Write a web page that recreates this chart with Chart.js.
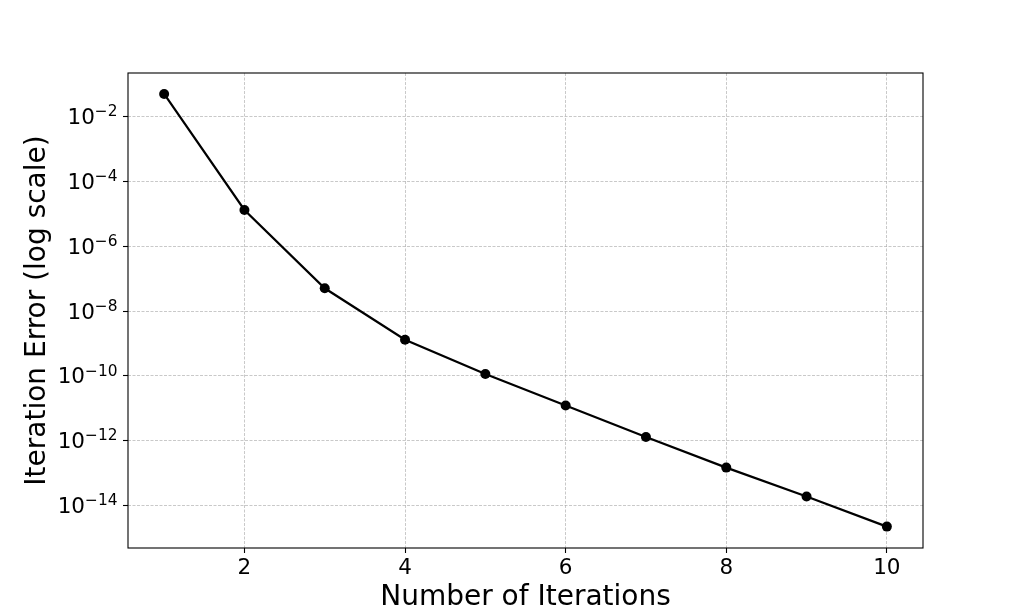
<!DOCTYPE html>
<html>
<head>
<meta charset="utf-8">
<script src="https://cdn.jsdelivr.net/npm/chart.js@4/dist/chart.umd.min.js"></script>
<style>
  html, body { margin: 0; padding: 0; background: #ffffff; }
  #wrap { width: 1026px; height: 616px; }
</style>
</head>
<body>
<div id="wrap"><canvas id="c" width="1026" height="616"></canvas></div>
<script>
// ---- data ----
const iterations = [1, 2, 3, 4, 5, 6, 7, 8, 9, 10];
const errors = [5.0e-2, 1.32e-5, 5.04e-8, 1.30e-9, 1.15e-10, 1.22e-11, 1.30e-12, 1.48e-13, 1.9e-14, 2.24e-15];
const xTickValues = [2, 4, 6, 8, 10];
const yTickExponents = [-14, -12, -10, -8, -6, -4, -2];
const xAxisTitle = 'Number of Iterations';
const yAxisTitle = 'Iteration Error (log scale)';

const FONT = "'DejaVu Sans', sans-serif";

const points = iterations.map((x, i) => ({ x: x, y: errors[i] }));

const frameAndLabels = {
  id: 'frameAndLabels',
  afterDraw(chart) {
    const ctx = chart.ctx;
    const a = chart.chartArea;
    const ys = chart.scales.y;
    ctx.save();
    // axes frame (all four spines)
    ctx.strokeStyle = '#000000';
    ctx.lineWidth = 1.1;
    ctx.setLineDash([]);
    ctx.strokeRect(a.left, a.top, a.right - a.left, a.bottom - a.top);
    // y tick labels: 10 with superscript exponent
    ctx.fillStyle = '#000000';
    ctx.textAlign = 'left';
    ctx.textBaseline = 'alphabetic';
    const xRight = 117.5;
    yTickExponents.forEach(e => {
      const py = ys.getPixelForValue(Math.pow(10, e));
      const expText = (e < 0 ? '\u2212' : '') + Math.abs(e);
      ctx.font = '15.4px ' + FONT;
      const expW = ctx.measureText(expText).width;
      ctx.font = '21.5px ' + FONT;
      const baseW = ctx.measureText('10').width;
      ctx.fillText('10', xRight - expW - baseW, py + 7.6);
      ctx.font = '15.4px ' + FONT;
      ctx.fillText(expText, xRight - expW, py - 0.3);
    });
    ctx.restore();
  }
};

new Chart(document.getElementById('c'), {
  type: 'line',
  data: {
    datasets: [{
      data: points,
      borderColor: '#000000',
      backgroundColor: '#000000',
      borderWidth: 2.2,
      tension: 0,
      pointRadius: 5,
      pointHoverRadius: 5,
      pointBackgroundColor: '#000000',
      pointBorderWidth: 0,
      fill: false
    }]
  },
  options: {
    responsive: false,
    animation: false,
    devicePixelRatio: 1,
    layout: { padding: { left: 0, right: 103, top: 73, bottom: 0 } },
    plugins: {
      legend: { display: false },
      tooltip: { enabled: false },
      title: { display: false }
    },
    scales: {
      x: {
        type: 'linear',
        position: 'bottom',
        min: 0.55,
        max: 10.45,
        afterBuildTicks: s => { s.ticks = xTickValues.map(v => ({ value: v })); },
        afterFit: s => { s.height = 68; },
        grid: {
          color: 'rgba(170,170,170,0.8)',
          lineWidth: 0.8,
          tickLength: 5,
          tickColor: '#000000',
          tickWidth: 1.1,
          drawOnChartArea: true
        },
        border: { display: false, dash: [3, 1.5] },
        ticks: {
          color: '#000000',
          font: { family: FONT, size: 21.5 },
          padding: 3,
          maxRotation: 0,
          autoSkip: false
        },
        title: {
          display: true,
          text: xAxisTitle,
          color: '#000000',
          font: { family: FONT, size: 28 },
          padding: { top: 0, bottom: 1 }
        }
      },
      y: {
        type: 'logarithmic',
        position: 'left',
        min: Math.pow(10, -15.31),
        max: Math.pow(10, -0.655),
        afterBuildTicks: s => { s.ticks = yTickExponents.map(e => ({ value: Math.pow(10, e) })); },
        afterFit: s => { s.width = 128; },
        grid: {
          color: 'rgba(170,170,170,0.8)',
          lineWidth: 0.8,
          tickLength: 5,
          tickColor: '#000000',
          tickWidth: 1.1
        },
        border: { display: false, dash: [3, 1.5] },
        ticks: { display: false },
        title: {
          display: true,
          text: yAxisTitle,
          color: '#000000',
          font: { family: FONT, size: 28 },
          padding: { top: 21, bottom: 0 }
        }
      }
    }
  },
  plugins: [frameAndLabels]
});
</script>
</body>
</html>
